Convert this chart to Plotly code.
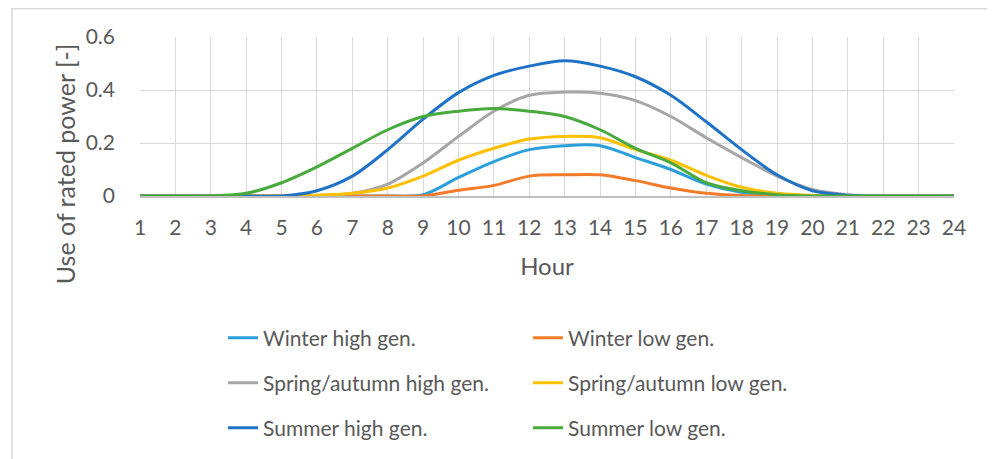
import plotly.graph_objects as go

# hourly profiles, share of rated power
hours = list(range(1, 25))

winter_high = [0, 0, 0, 0, 0, 0, 0, 0, 0.005, 0.07, 0.13, 0.175, 0.19, 0.19,
               0.145, 0.10, 0.045, 0.014, 0.003, 0, 0, 0, 0, 0]
winter_low = [0, 0, 0, 0, 0, 0, 0, 0, 0, 0.022, 0.04, 0.075, 0.08, 0.08,
              0.058, 0.03, 0.01, 0.002, 0, 0, 0, 0, 0, 0]
spring_high = [0, 0, 0, 0, 0, 0, 0.01, 0.045, 0.125, 0.225, 0.32, 0.38, 0.392, 0.388,
               0.36, 0.30, 0.22, 0.145, 0.075, 0.025, 0.005, 0, 0, 0]
spring_low = [0, 0, 0, 0, 0, 0.003, 0.01, 0.03, 0.075, 0.135, 0.18, 0.215, 0.225, 0.22,
              0.175, 0.135, 0.078, 0.033, 0.01, 0.002, 0, 0, 0, 0]
summer_high = [0, 0, 0, 0, 0, 0.02, 0.075, 0.175, 0.29, 0.39, 0.455, 0.49, 0.51, 0.49,
               0.45, 0.38, 0.28, 0.175, 0.08, 0.02, 0.003, 0, 0, 0]
summer_low = [0, 0, 0, 0.01, 0.05, 0.11, 0.18, 0.25, 0.30, 0.32, 0.33, 0.32, 0.30, 0.25,
              0.18, 0.125, 0.05, 0.02, 0.005, 0, 0, 0, 0, 0]

series = [
    ("Winter high gen.", winter_high, "#2B9FDB", "legend"),
    ("Winter low gen.", winter_low, "#F47B2A", "legend"),
    ("Spring/autumn high gen.", spring_high, "#A6A6A6", "legend2"),
    ("Spring/autumn low gen.", spring_low, "#FFC000", "legend2"),
    ("Summer high gen.", summer_high, "#1F73C6", "legend3"),
    ("Summer low gen.", summer_low, "#48AA3C", "legend3"),
]

FONT = "Lato, 'Open Sans', sans-serif"
GREY = "#595959"

fig = go.Figure()
for name, vals, col, leg in series:
    fig.add_trace(go.Scatter(
        x=hours, y=vals, name=name, mode="lines",
        line=dict(color=col, width=3, shape="spline", smoothing=0.9),
        cliponaxis=False, legend=leg,
    ))

# the page has an 8px body margin, so the figure is a bit smaller
# plot area on the page: x 140..954, y 37..197
OFF = 8
W, H = 987, 451
L, T = 132, 29
pw, ph = 814, 160
R, B = W - L - pw, H - T - ph


def px_x(x):
    # page pixel -> paper x
    return (x - OFF - L) / pw


def px_y(y):
    # page pixel -> paper y
    return (T + ph - (y - OFF)) / ph


leg_common = dict(orientation="h", xanchor="left", yanchor="middle",
                  entrywidth=260, bgcolor="rgba(0,0,0,0)",
                  font=dict(family=FONT, size=21, color=GREY))

fig.update_layout(
    width=W, height=H,
    margin=dict(l=L, r=R, t=T, b=B),
    plot_bgcolor="white", paper_bgcolor="white",
    font=dict(family=FONT, color=GREY, size=20),
    legend=dict(x=px_x(223), y=px_y(338), **leg_common),
    legend2=dict(x=px_x(223), y=px_y(383), **leg_common),
    legend3=dict(x=px_x(223), y=px_y(428), **leg_common),
    xaxis=dict(
        range=[1, 24], tickmode="linear", tick0=1, dtick=1,
        showgrid=True, gridcolor="#D9D9D9", gridwidth=1.3,
        showline=True, linecolor="#BFBFBF", linewidth=1.5,
        zeroline=False, ticks="", ticklabelstandoff=12,
        tickfont=dict(size=21, color=GREY),
        title=dict(text="Hour", font=dict(size=24, color=GREY), standoff=20),
    ),
    yaxis=dict(
        range=[0, 0.6], tickmode="linear", tick0=0, dtick=0.2,
        tickformat="~g",
        showgrid=True, gridcolor="#D9D9D9", gridwidth=1.3,
        zeroline=False, showline=False, ticks="", ticklabelstandoff=24,
        tickfont=dict(size=21, color=GREY),
    ),
    # Excel centres the y title lower than the plot area
    annotations=[dict(text="Use of rated power [-]", textangle=-90,
                      xref="paper", yref="paper", x=px_x(65), y=px_y(165),
                      xanchor="center", yanchor="middle", showarrow=False,
                      font=dict(family=FONT, size=25, color=GREY))],
    shapes=[dict(type="rect", xref="paper", yref="paper",
                 x0=px_x(12), x1=px_x(994), y0=px_y(480), y1=px_y(8.5),
                 line=dict(color="#D9D9D9", width=1.5), layer="below")],
)

fig.write_html("out.html")
